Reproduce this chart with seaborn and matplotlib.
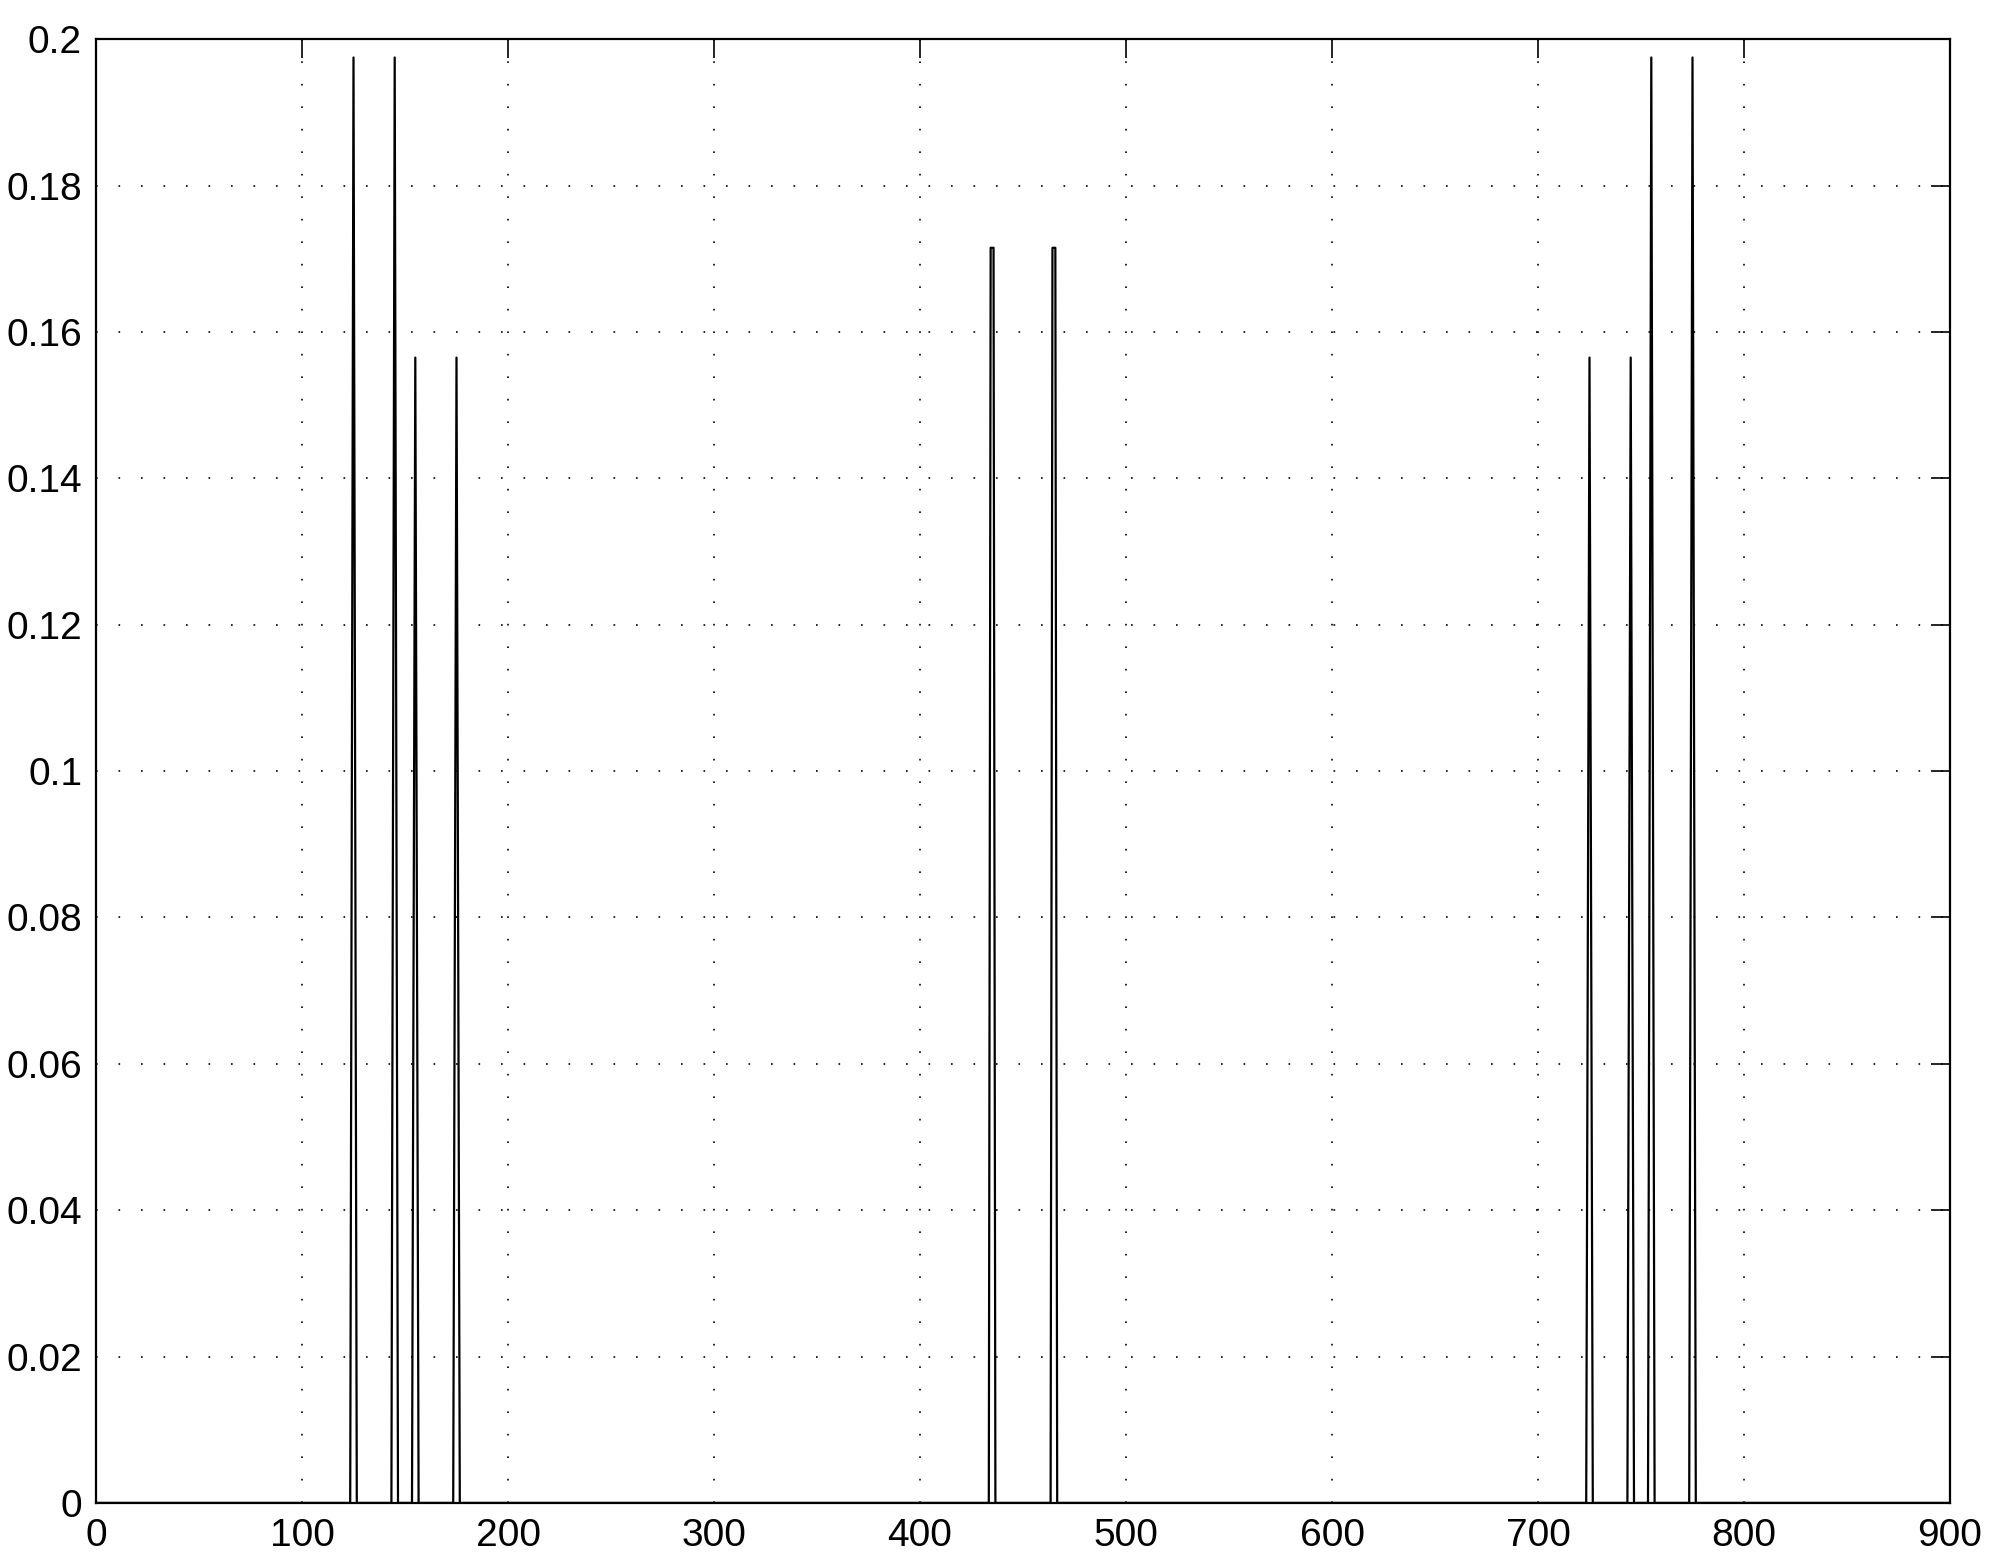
# %% Library imports

import pandas as pd
import seaborn as sns
import matplotlib.pyplot as plt
from matplotlib.ticker import FuncFormatter, MultipleLocator

# %% Data

peak_x = [125, 145, 155, 175, 435, 465, 725, 745, 755, 775]
peak_h = [0.1975, 0.1975, 0.1565, 0.1565, 0.1715, 0.1715,
          0.1565, 0.1565, 0.1975, 0.1975]
peak_top = [0, 0, 0, 0, 1.4, 1.4, 0, 0, 0, 0]   # width of flat top
half_base = 1.6
x_range = [0, 900]

# %% Build the line (zero baseline with narrow spikes)

xs = [x_range[0]]
ys = [0.0]
for c, h, w in zip(peak_x, peak_h, peak_top):
    xs += [c - half_base, c - w / 2, c + w / 2, c + half_base]
    ys += [0.0, h, h, 0.0]
xs.append(x_range[1])
ys.append(0.0)
df = pd.DataFrame({"x": xs, "y": ys})

# %% Plot

sns.set_style("white")
plt.rcParams['font.family'] = ['Liberation Sans', 'DejaVu Sans']

fig = plt.figure(figsize=(20, 15.68), dpi=100)
ax = fig.add_axes([0.048, 0.0415, 0.927, 0.9335])
sns.lineplot(data=df, x="x", y="y", color="black", linewidth=1.6,
             estimator=None, sort=False, ax=ax)

ax.set_xlim(0, 900)
ax.set_ylim(0, 0.2)
ax.xaxis.set_major_locator(MultipleLocator(100))
ax.yaxis.set_major_locator(MultipleLocator(0.02))
ax.yaxis.set_major_formatter(FuncFormatter(lambda v, p: "%g" % round(v, 4)))
ax.set_xlabel("")
ax.set_ylabel("")

ax.grid(True, color="black", linestyle=(0, (1, 12.5)), linewidth=1.2)
ax.tick_params(direction="in", length=14, width=1.2, labelsize=28,
               top=True, right=True, colors="black", pad=10)
ax.tick_params(axis="x", pad=11)
for s in ax.spines.values():
    s.set_visible(True)
    s.set_color("black")
    s.set_linewidth(1.6)

plt.savefig("out.png", dpi=100)
